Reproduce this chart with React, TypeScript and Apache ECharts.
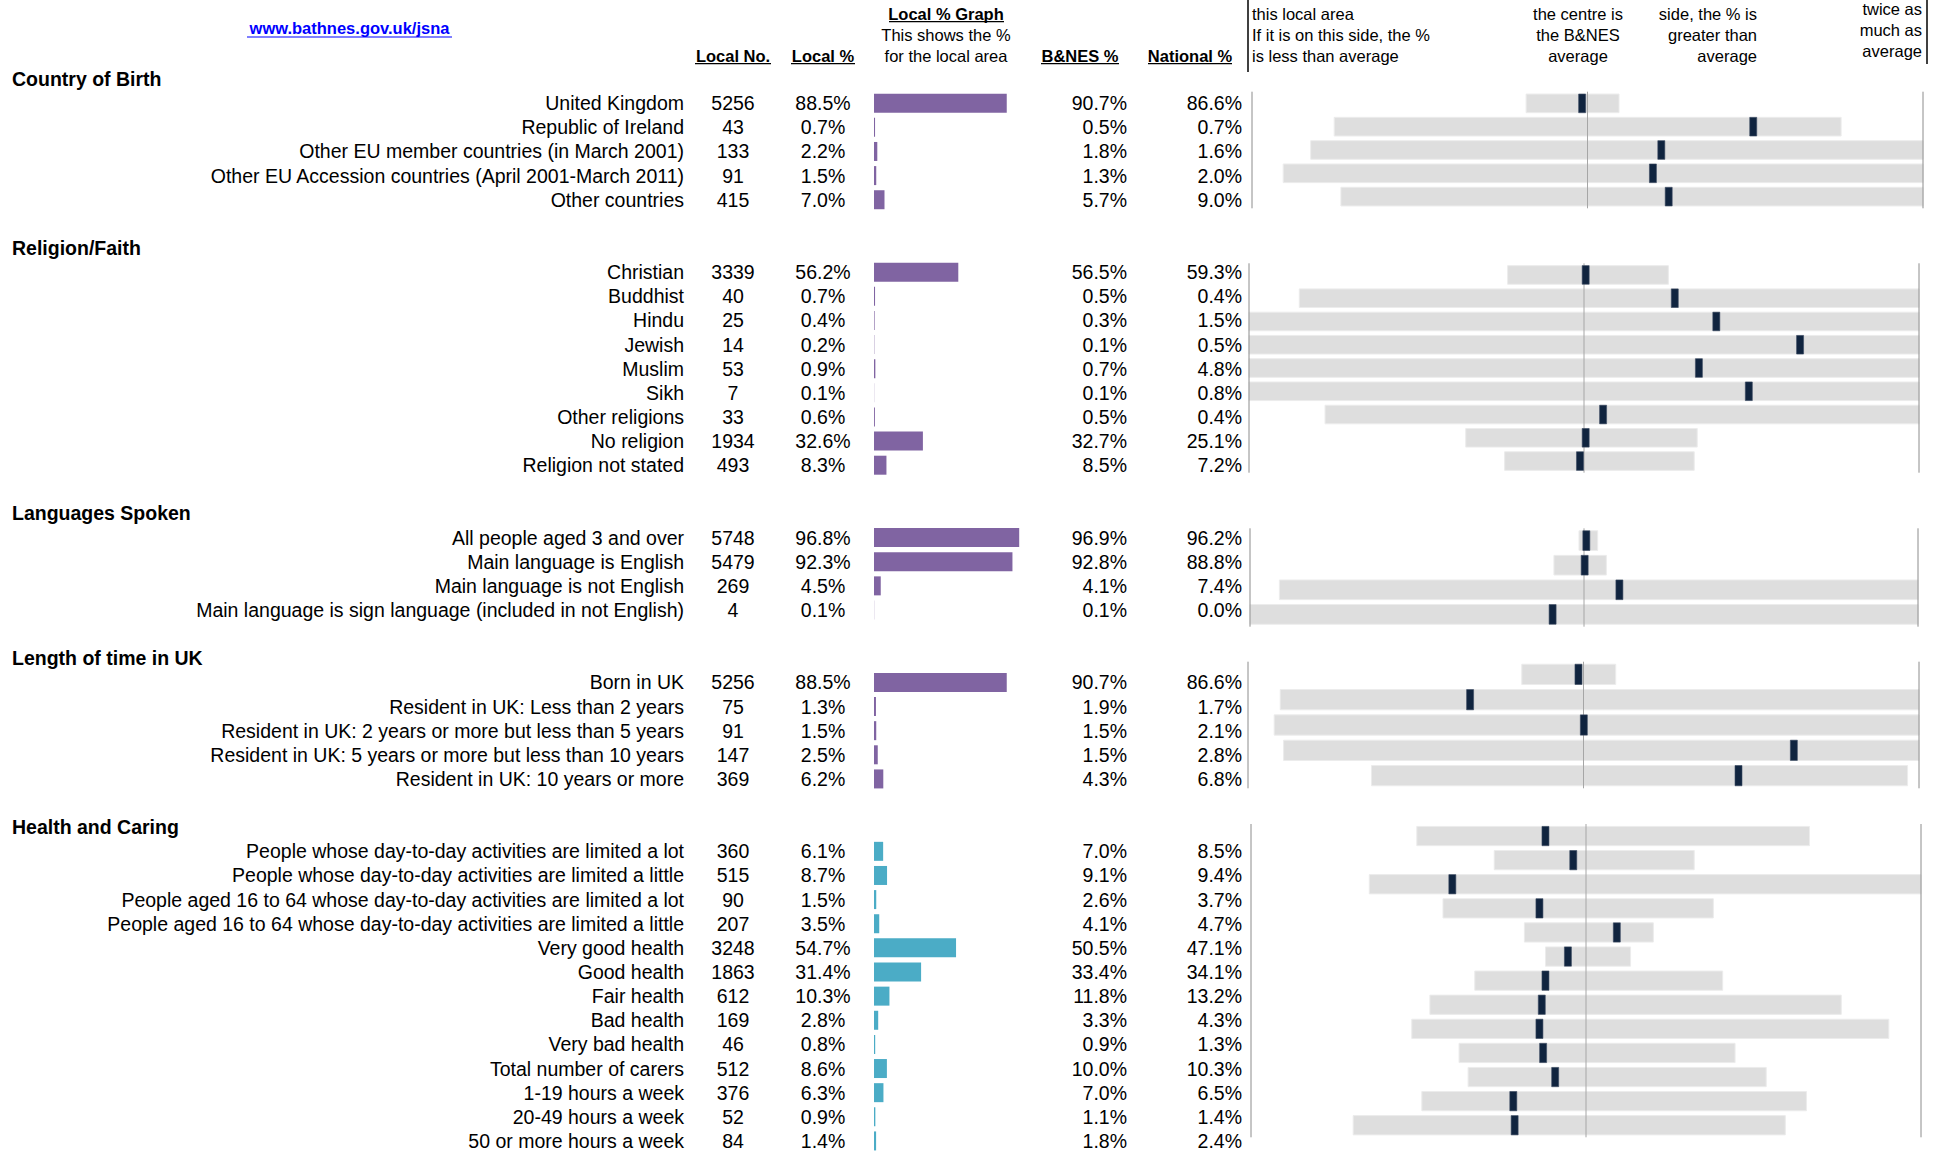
import React, { useEffect, useRef } from "react";
import * as echarts from "echarts";

// ---------------- DATA ----------------
const sectionTitles = [
  "Country of Birth",
  "Religion/Faith",
  "Languages Spoken",
  "Length of time in UK",
  "Health and Caring",
];

const countryLabels = [
  "United Kingdom",
  "Republic of Ireland",
  "Other EU member countries (in March 2001)",
  "Other EU Accession countries (April 2001-March 2011)",
  "Other countries",
];
const countryNo = [5256, 43, 133, 91, 415];
const countryLocal = [88.5, 0.7, 2.2, 1.5, 7.0];
const countryBanes = [90.7, 0.5, 1.8, 1.3, 5.7];
const countryNat = [86.6, 0.7, 1.6, 2.0, 9.0];
const countryLo = [0.817, 0.245, 0.175, 0.093, 0.265];
const countryHi = [1.094, 1.756, 2, 2, 2];
const countryMark = [0.984, 1.494, 1.22, 1.195, 1.242];

const religionLabels = [
  "Christian",
  "Buddhist",
  "Hindu",
  "Jewish",
  "Muslim",
  "Sikh",
  "Other religions",
  "No religion",
  "Religion not stated",
];
const religionNo = [3339, 40, 25, 14, 53, 7, 33, 1934, 493];
const religionLocal = [56.2, 0.7, 0.4, 0.2, 0.9, 0.1, 0.6, 32.6, 8.3];
const religionBanes = [56.5, 0.5, 0.3, 0.1, 0.7, 0.1, 0.5, 32.7, 8.5];
const religionNat = [59.3, 0.4, 1.5, 0.5, 4.8, 0.8, 0.4, 25.1, 7.2];
const religionLo = [0.772, 0.15, 0, 0, 0, 0, 0.227, 0.647, 0.763];
const religionHi = [1.252, 2, 2, 2, 2, 2, 2, 1.338, 1.329];
const religionMark = [1.005, 1.271, 1.395, 1.645, 1.343, 1.492, 1.057, 1.005, 0.988];

const languageLabels = [
  "All people aged 3 and over",
  "Main language is English",
  "Main language is not English",
  "Main language is sign language (included in not English)",
];
const languageNo = [5748, 5479, 269, 4];
const languageLocal = [96.8, 92.3, 4.5, 0.1];
const languageBanes = [96.9, 92.8, 4.1, 0.1];
const languageNat = [96.2, 88.8, 7.4, 0.0];
const languageLo = [0.985, 0.91, 0.088, 0];
const languageHi = [1.041, 1.067, 2, 2];
const languageMark = [1.007, 1.002, 1.106, 0.906];

const lengthLabels = [
  "Born in UK",
  "Resident in UK: Less than 2 years",
  "Resident in UK: 2 years or more but less than 5 years",
  "Resident in UK: 5 years or more but less than 10 years",
  "Resident in UK: 10 years or more",
];
const lengthNo = [5256, 75, 91, 147, 369];
const lengthLocal = [88.5, 1.3, 1.5, 2.5, 6.2];
const lengthBanes = [90.7, 1.9, 1.5, 1.5, 4.3];
const lengthNat = [86.6, 1.7, 2.1, 2.8, 6.8];
const lengthLo = [0.816, 0.096, 0.078, 0.106, 0.368];
const lengthHi = [1.096, 2, 2, 2, 1.966];
const lengthMark = [0.985, 0.662, 1.001, 1.627, 1.462];

const healthLabels = [
  "People whose day-to-day activities are limited a lot",
  "People whose day-to-day activities are limited a little",
  "People aged 16 to 64 whose day-to-day activities are limited a lot",
  "People aged 16 to 64 whose day-to-day activities are limited a little",
  "Very good health",
  "Good health",
  "Fair health",
  "Bad health",
  "Very bad health",
  "Total number of carers",
  "1-19 hours a week",
  "20-49 hours a week",
  "50 or more hours a week",
];
const healthNo = [360, 515, 90, 207, 3248, 1863, 612, 169, 46, 512, 376, 52, 84];
const healthLocal = [6.1, 8.7, 1.5, 3.5, 54.7, 31.4, 10.3, 2.8, 0.8, 8.6, 6.3, 0.9, 1.4];
const healthBanes = [7.0, 9.1, 2.6, 4.1, 50.5, 33.4, 11.8, 3.3, 0.9, 10.0, 7.0, 1.1, 1.8];
const healthNat = [8.5, 9.4, 3.7, 4.7, 47.1, 34.1, 13.2, 4.3, 1.3, 10.3, 6.5, 1.4, 2.4];
const healthLo = [0.495, 0.726, 0.353, 0.573, 0.816, 0.879, 0.668, 0.534, 0.48, 0.621, 0.648, 0.51, 0.305];
const healthHi = [1.667, 1.323, 2, 1.38, 1.201, 1.133, 1.408, 1.762, 1.904, 1.445, 1.538, 1.658, 1.595];
const healthMark = [0.879, 0.962, 0.601, 0.861, 1.092, 0.946, 0.879, 0.868, 0.861, 0.872, 0.908, 0.783, 0.787];

// reference lines of the comparison panel: 0, B&NES average (1), twice average (2)
const panelRefLines = [0, 1, 2];

const PURPLE = "#8064a2";
const TEAL = "#4bacc6";

const sections = [
  { labels: countryLabels, no: countryNo, local: countryLocal, banes: countryBanes, nat: countryNat, lo: countryLo, hi: countryHi, mark: countryMark, color: PURPLE },
  { labels: religionLabels, no: religionNo, local: religionLocal, banes: religionBanes, nat: religionNat, lo: religionLo, hi: religionHi, mark: religionMark, color: PURPLE },
  { labels: languageLabels, no: languageNo, local: languageLocal, banes: languageBanes, nat: languageNat, lo: languageLo, hi: languageHi, mark: languageMark, color: PURPLE },
  { labels: lengthLabels, no: lengthNo, local: lengthLocal, banes: lengthBanes, nat: lengthNat, lo: lengthLo, hi: lengthHi, mark: lengthMark, color: PURPLE },
  { labels: healthLabels, no: healthNo, local: healthLocal, banes: healthBanes, nat: healthNat, lo: healthLo, hi: healthHi, mark: healthMark, color: TEAL },
];

// ---------------- LAYOUT ----------------
const ROW_H = 24.15;
const TABLE_TOP = 67;
const FONT = "'Liberation Sans', Arial, sans-serif";
const DATA_FS = 19.5;
const HEAD_FS = 16.5;

const COL_LABEL_RIGHT = 684;
const COL_NO_CENTER = 733;
const COL_LOCAL_CENTER = 823;
const COL_BANES_RIGHT = 1127;
const COL_NAT_RIGHT = 1242;
const TITLE_LEFT = 12;

const BAR_LEFT = 874;
const BAR_WIDTH_PX = 150;

const panelGrids = [
  { top: 91.7, height: 116.6, left: 1252, right: 1923 },
  { top: 263.3, height: 209.4, left: 1249, right: 1919 },
  { top: 528.3, height: 98.4, left: 1250, right: 1918 },
  { top: 661.7, height: 126.6, left: 1248, right: 1919 },
  { top: 824, height: 313.3, left: 1251, right: 1921 },
];

type Row =
  | { kind: "title"; text: string }
  | { kind: "blank" }
  | { kind: "data"; label: string; no: number; local: number; banes: number; nat: number; color: string };

function buildRows(): Row[] {
  const rows: Row[] = [];
  sections.forEach((s, si) => {
    rows.push({ kind: "title", text: sectionTitles[si] });
    s.labels.forEach((l, j) =>
      rows.push({ kind: "data", label: l, no: s.no[j], local: s.local[j], banes: s.banes[j], nat: s.nat[j], color: s.color })
    );
    if (si < sections.length - 1) rows.push({ kind: "blank" });
  });
  return rows;
}

const pct = (v: number) => v.toFixed(1) + "%";

function txt(x: number, y: number, text: string, align: string, opts: any = {}) {
  return {
    type: "text",
    x,
    y,
    silent: true,
    style: {
      text,
      fill: opts.fill || "#000",
      fontFamily: FONT,
      fontSize: opts.fontSize || DATA_FS,
      fontWeight: opts.bold ? "bold" : "normal",
      align,
      verticalAlign: "middle",
    },
  };
}

function hline(x1: number, x2: number, y: number, color = "#000", w = 1) {
  return { type: "line", silent: true, shape: { x1, y1: y, x2, y2: y }, style: { stroke: color, lineWidth: w } };
}
function vline(x: number, y1: number, y2: number, color = "#000", w = 1) {
  return { type: "line", silent: true, shape: { x1: x, y1, x2: x, y2 }, style: { stroke: color, lineWidth: w } };
}

export default function App() {
  const ref = useRef<HTMLDivElement>(null);

  useEffect(() => {
    if (!ref.current) return;
    const chart = echarts.init(ref.current, undefined, { renderer: "svg" });
    const rows = buildRows();
    const n = rows.length;

    const grids: any[] = [
      { left: BAR_LEFT, width: BAR_WIDTH_PX, top: TABLE_TOP, height: n * ROW_H },
    ];
    const xAxes: any[] = [
      { gridIndex: 0, type: "value", min: 0, max: 100, show: false },
    ];
    const yAxes: any[] = [
      { gridIndex: 0, type: "category", inverse: true, data: rows.map((_, i) => "r" + i), show: false },
    ];
    const series: any[] = [];

    // local % bars
    series.push({
      type: "bar",
      xAxisIndex: 0,
      yAxisIndex: 0,
      barWidth: 19,
      silent: true,
      data: rows.map((r) =>
        r.kind === "data" ? { value: r.local, itemStyle: { color: r.color } } : "-"
      ),
      z: 2,
    });

    // table texts
    series.push({
      type: "custom",
      xAxisIndex: 0,
      yAxisIndex: 0,
      silent: true,
      clip: false,
      data: rows.map((_, i) => [0, i]),
      encode: { x: 0, y: 1 },
      renderItem: (params: any, api: any) => {
        const r = rows[params.dataIndex];
        const y = api.coord([0, api.value(1)])[1];
        if (r.kind === "title") {
          return { type: "group", children: [txt(TITLE_LEFT, y, r.text, "left", { bold: true })] };
        }
        if (r.kind === "data") {
          return {
            type: "group",
            children: [
              txt(COL_LABEL_RIGHT, y, r.label, "right"),
              txt(COL_NO_CENTER, y, String(r.no), "center"),
              txt(COL_LOCAL_CENTER, y, pct(r.local), "center"),
              txt(COL_BANES_RIGHT, y, pct(r.banes), "right"),
              txt(COL_NAT_RIGHT, y, pct(r.nat), "right"),
            ],
          };
        }
        return { type: "group", children: [] };
      },
      z: 3,
    });

    // right panels
    sections.forEach((s, si) => {
      const g = panelGrids[si];
      const gi = si + 1;
      grids.push({ left: g.left, width: g.right - g.left, top: g.top, height: g.height });
      xAxes.push({ gridIndex: gi, type: "value", min: 0, max: 2, show: false });
      yAxes.push({
        gridIndex: gi,
        type: "category",
        inverse: true,
        data: s.labels,
        show: false,
      });
      // range bars (grey)
      series.push({
        type: "custom",
        xAxisIndex: gi,
        yAxisIndex: gi,
        silent: true,
        data: s.lo.map((l, j) => [l, s.hi[j], j]),
        encode: { x: [0, 1], y: 2 },
        renderItem: (_p: any, api: any) => {
          const a = api.coord([api.value(0), api.value(2)]);
          const b = api.coord([api.value(1), api.value(2)]);
          const h = api.size([0, 1])[1] * 0.8;
          return {
            type: "rect",
            shape: { x: a[0], y: a[1] - h / 2, width: b[0] - a[0], height: h },
            style: { fill: "#dedede", stroke: "#ececec", lineWidth: 1 },
          };
        },
        z: 2,
      });
      // reference vertical lines
      series.push({
        type: "custom",
        xAxisIndex: gi,
        yAxisIndex: gi,
        silent: true,
        clip: false,
        data: panelRefLines.map((v) => [v, 0]),
        encode: { x: 0, y: 1 },
        renderItem: (params: any, api: any) => {
          const v = api.value(0);
          const x = api.coord([v, 0])[0];
          const cs = params.coordSys;
          return {
            type: "line",
            shape: { x1: x, y1: cs.y, x2: x, y2: cs.y + cs.height },
            style: { stroke: v === 1 ? "#a6a6a6" : "#8c8c8c", lineWidth: 1 },
          };
        },
        z: 3,
      });
      // local vs B&NES markers
      series.push({
        type: "custom",
        xAxisIndex: gi,
        yAxisIndex: gi,
        silent: true,
        data: s.mark.map((m, j) => [m, j]),
        encode: { x: 0, y: 1 },
        renderItem: (_p: any, api: any) => {
          const c = api.coord([api.value(0), api.value(1)]);
          const h = api.size([0, 1])[1] * 0.8;
          return {
            type: "rect",
            shape: { x: c[0] - 3.5, y: c[1] - h / 2, width: 7, height: h },
            style: { fill: "#10243f", stroke: "#3a4a62", lineWidth: 0.6 },
          };
        },
        z: 4,
      });
    });

    // header (static text and rules)
    const H1 = 13.6, H2 = 34.6, H3 = 55.6;
    const graphic: any[] = [
      txt(349.5, 28, "www.bathnes.gov.uk/jsna", "center", { fontSize: HEAD_FS, bold: true, fill: "#0000ff" }),
      hline(247, 452, 37, "#0000ff", 1.2),
      txt(733, H3, "Local No.", "center", { fontSize: HEAD_FS, bold: true }),
      hline(695, 771, H3 + 8, "#000", 1.2),
      txt(823, H3, "Local %", "center", { fontSize: HEAD_FS, bold: true }),
      hline(791, 855, H3 + 8, "#000", 1.2),
      txt(946, H1, "Local % Graph", "center", { fontSize: HEAD_FS, bold: true }),
      hline(889, 1004, H1 + 8, "#000", 1.2),
      txt(946, H2, "This shows the %", "center", { fontSize: HEAD_FS }),
      txt(946, H3, "for the local area", "center", { fontSize: HEAD_FS }),
      txt(1080, H3, "B&NES %", "center", { fontSize: HEAD_FS, bold: true }),
      hline(1041, 1119, H3 + 8, "#000", 1.2),
      txt(1190, H3, "National %", "center", { fontSize: HEAD_FS, bold: true }),
      hline(1148, 1232, H3 + 8, "#000", 1.2),
      vline(1248, 0, 72, "#000", 1.5),
      txt(1252, H1, "this local area", "left", { fontSize: HEAD_FS }),
      txt(1252, H2, "If it is on this side, the %", "left", { fontSize: HEAD_FS }),
      txt(1252, H3, "is less than average", "left", { fontSize: HEAD_FS }),
      txt(1578, H1, "the centre is", "center", { fontSize: HEAD_FS }),
      txt(1578, H2, "the B&NES", "center", { fontSize: HEAD_FS }),
      txt(1578, H3, "average", "center", { fontSize: HEAD_FS }),
      txt(1757, H1, "side, the % is", "right", { fontSize: HEAD_FS }),
      txt(1757, H2, "greater than", "right", { fontSize: HEAD_FS }),
      txt(1757, H3, "average", "right", { fontSize: HEAD_FS }),
      txt(1922, 9, "twice as", "right", { fontSize: HEAD_FS }),
      txt(1922, 30, "much as", "right", { fontSize: HEAD_FS }),
      txt(1922, 50.5, "average", "right", { fontSize: HEAD_FS }),
      vline(1927, 0, 64, "#000", 1.5),
    ];

    chart.setOption({
      animation: false,
      backgroundColor: "#ffffff",
      textStyle: { fontFamily: FONT },
      grid: grids,
      xAxis: xAxes,
      yAxis: yAxes,
      series,
      graphic,
    });

    return () => chart.dispose();
  }, []);

  return (
    <div
      ref={ref}
      style={{ position: "absolute", left: 0, top: 0, width: 1936, height: 1153, background: "#fff" }}
    />
  );
}
